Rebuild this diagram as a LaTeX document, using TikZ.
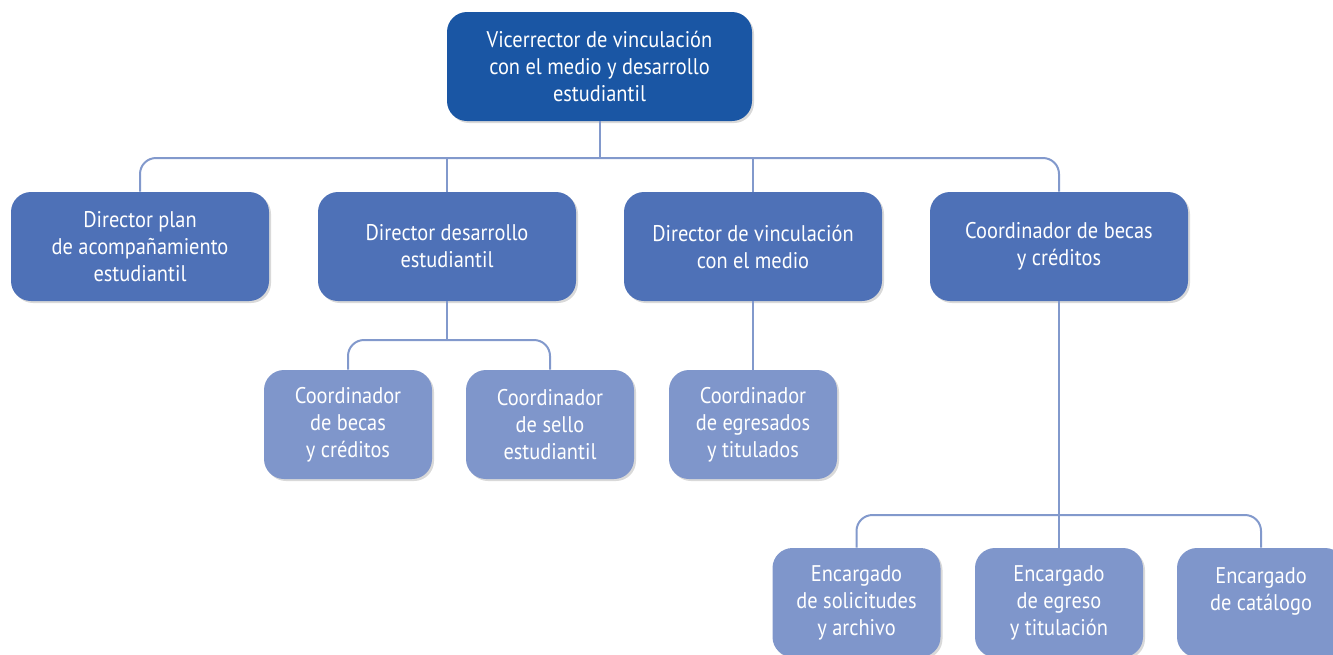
\documentclass[tikz,border=0pt]{standalone}
\usepackage{fontspec}
\setmainfont{PT Sans}[FakeStretch=0.9]
\usetikzlibrary{shadows}
\definecolor{topblue}{HTML}{1A56A4}
\definecolor{midblue}{HTML}{4E71B7}
\definecolor{lowblue}{HTML}{7F96CB}
\definecolor{lineblue}{HTML}{8299CC}
\begin{document}
\begin{tikzpicture}[x=0.75pt,y=-0.75pt,
  box/.style={rectangle, rounded corners=15pt, text=white, align=center,
    font=\fontsize{17}{20.25}\selectfont, inner sep=0pt, minimum height=81.75pt,
    drop shadow={shadow xshift=1.5pt, shadow yshift=-1.5pt, opacity=0.3, fill=gray}},
  topbox/.style={box, fill=topblue, minimum width=228.75pt},
  midbox/.style={box, fill=midblue, minimum width=193.5pt},
  lowbox/.style={box, fill=lowblue, minimum width=126pt},
  conn/.style={draw=lineblue, line width=1.5pt},
  rconn/.style={conn, rounded corners=12pt}]
\useasboundingbox (0,0) rectangle (1333,654);
\clip (0,0) rectangle (1333,654);
\node[topbox] (top) at (599.5,66.5) {Vicerrector de vinculación\\con el medio y desarrollo\\estudiantil};
\node[midbox] (b1) at (140,246.5) {Director plan\\de acompañamiento\\estudiantil};
\node[midbox] (b2) at (447,246.5) {Director desarrollo\\estudiantil};
\node[midbox] (b3) at (753,246.5) {Director de vinculación\\con el medio};
\node[midbox] (b4) at (1059,246.5) {Coordinador de becas\\y créditos};
\node[lowbox] (c1) at (348,424.5) {Coordinador\\de becas\\y créditos};
\node[lowbox] (c2) at (550,424.5) {Coordinador\\de sello\\estudiantil};
\node[lowbox] (c3) at (753,424.5) {Coordinador\\de egresados\\y titulados};
\node[lowbox] (d1) at (856.5,602.5) {Encargado\\de solicitudes\\y archivo};
\node[lowbox] (d2) at (1059,602.5) {Encargado\\de egreso\\y titulación};
\node[lowbox] (d3) at (1261,602.5) {Encargado\\de catálogo\\~};
\coordinate (bar1) at (599.5,158);
\coordinate (bar2) at (447,340);
\coordinate (bar3) at (1059,515);
\draw[conn] (top.south) -- (bar1);
\draw[rconn] (b1.north) |- (bar1) -| (b4.north);
\draw[conn] (b2.north) -- (b2.north |- bar1);
\draw[conn] (b3.north) -- (b3.north |- bar1);
\draw[conn] (b2.south) -- (bar2);
\draw[rconn] (c1.north) |- (bar2) -| (c2.north);
\draw[conn] (b3.south) -- (c3.north);
\draw[conn] (b4.south) -- (bar3);
\draw[conn] (bar3) -- (d2.north);
\draw[rconn] (d1.north) |- (bar3) -| (d3.north);
\end{tikzpicture}
\end{document}
